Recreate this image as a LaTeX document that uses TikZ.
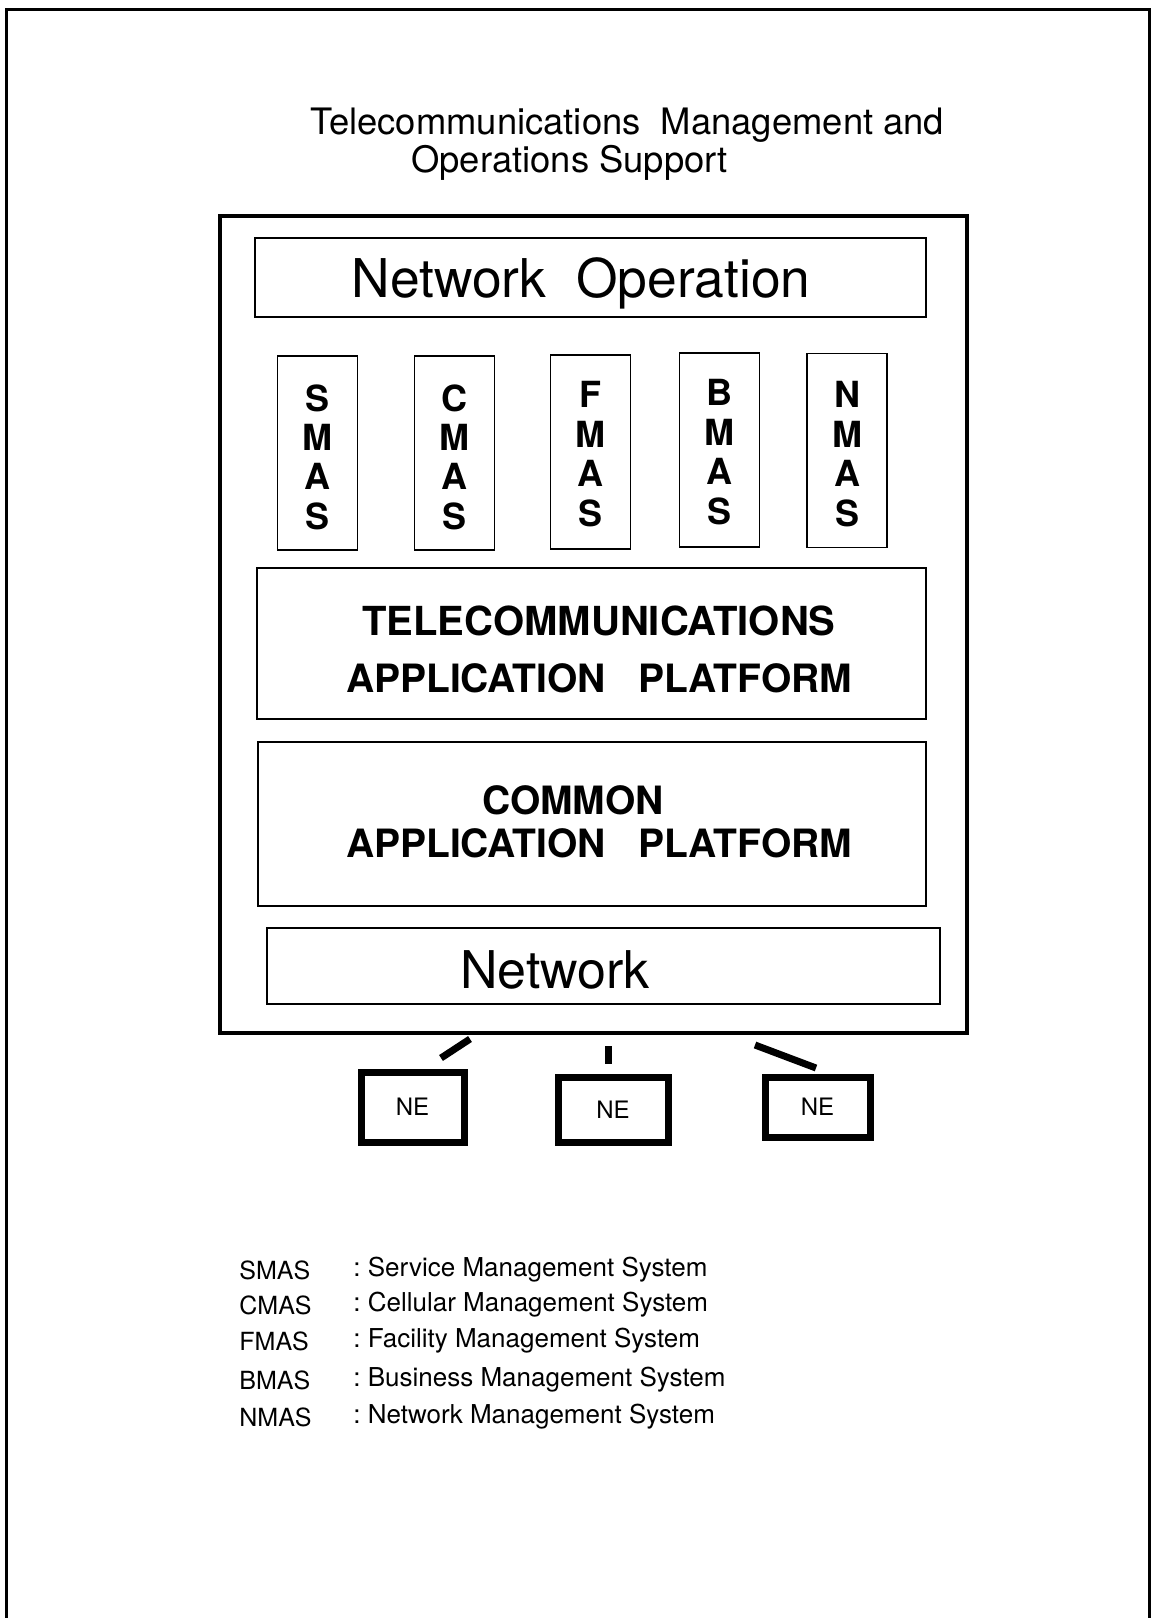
\documentclass[tikz,border=0pt]{standalone}
\usepackage{fontspec}
\setmainfont{TeX Gyre Heros}
\usepackage{tikz}

\begin{document}
\begin{tikzpicture}[x=0.5pt, y=-0.5pt,
    box/.style={draw, line width=0.7pt, inner sep=0pt, align=center},
    masbox/.style={box, minimum width=40pt, minimum height=97pt, font=\fontsize{18}{19.7}\selectfont\bfseries},
    nebox/.style={draw, line width=3.5pt, inner sep=0pt, font=\fontsize{12}{14}\selectfont},
    link/.style={line width=3.5pt},
    legend/.style={anchor=west, inner sep=0pt, font=\fontsize{12.5}{15}\selectfont}]
    \useasboundingbox (0,0) rectangle (1153,1618);

    % Frame
    \draw[line width=1.5pt] (6,1618) -- (6,9) -- (1149,9) -- (1149,1618);

    % Title
    \node (title1) [anchor=base west, inner sep=0pt, font=\fontsize{18.2}{21}\selectfont] at (310,134) {Telecommunications\ \ Management and};
    \node (title2) [anchor=base west, inner sep=0pt, font=\fontsize{18.2}{21}\selectfont] at (411,172) {Operations Support};

    % Main box and layers
    \node (tmos) [draw, line width=2pt, minimum width=373.5pt, minimum height=408.5pt] at (593.5,624.5) {};
    \node (netop) [box, minimum width=335.5pt, minimum height=39.5pt] at (590.5,277.5) {};
    \node (netoplabel) [anchor=base, inner sep=0pt, font=\fontsize{26.7}{30}\selectfont] at (581,297) {Network\ \ Operation};
    \foreach \name/\x/\y in {S/317.5/453, C/454.5/453, F/590.5/452, B/719.5/450, N/847/450.5}
        \node (\name mas) [masbox] at (\x,\y) {};
    \foreach \name/\x/\y in {S/317.5/457, C/454.5/457, F/590.5/454, B/719.5/452, N/847/454}
        \node (\name maslabel) [align=center, inner sep=0pt, font=\fontsize{18}{19.7}\selectfont\bfseries] at (\x,\y) {\name\\M\\A\\S};
    \node (tap) [box, minimum width=334.5pt, minimum height=75.5pt] at (591.5,643.5) {};
    \node (taplabel) [align=center, inner sep=0pt, font=\fontsize{20}{28.5}\selectfont\bfseries] at (599,649) {TELECOMMUNICATIONS\\\fontsize{19.5}{28.5}\selectfont APPLICATION\ \ \ PLATFORM};
    \node (cap) [box, minimum width=334pt, minimum height=82pt] at (592,824) {};
    \node (caplabel) [align=center, inner sep=0pt, font=\fontsize{19.5}{21.5}\selectfont\bfseries] at (599,822) {COMMON\hspace*{26pt}\\APPLICATION\ \ \ PLATFORM};
    \node (net) [box, minimum width=336.5pt, minimum height=38pt] at (603.5,966) {};
    \node (netlabel) [font=\fontsize{26}{30}\selectfont, inner sep=0pt] at (555,970) {Network};

    % Network elements
    \node (ne1) [nebox, minimum width=51.5pt, minimum height=35pt] at (412.5,1107) {NE};
    \node (ne2) [nebox, minimum width=55pt, minimum height=32.5pt] at (613,1109.5) {NE};
    \node (ne3) [nebox, minimum width=52.5pt, minimum height=30pt] at (817.5,1107) {NE};

    % Links
    \coordinate (l1a) at (470,1039);
    \coordinate (l1b) at (441,1058);
    \coordinate (l2a) at (608,1046);
    \coordinate (l2b) at (608,1064);
    \coordinate (l3a) at (755,1045);
    \coordinate (l3b) at (816,1068);
    \draw[link] (l1a) -- (l1b);
    \draw[link] (l2a) -- (l2b);
    \draw[link] (l3a) -- (l3b);

    % Legend
    \foreach \ab/\desc/\y in {SMAS/Service Management System/1270, CMAS/Cellular Management System/1305, FMAS/Facility Management System/1341, BMAS/Business Management System/1380, NMAS/Network Management System/1417} {
        \node (key\ab) [legend] at (239,\y) {\ab};
        \node (desc\ab) [legend, font=\fontsize{13}{15}\selectfont] at (353,\y) {:\ \desc};
    }
\end{tikzpicture}
\end{document}
